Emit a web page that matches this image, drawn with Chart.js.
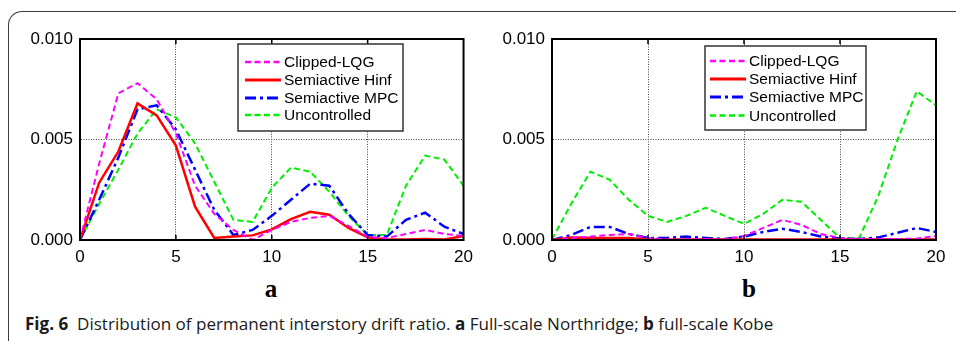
<!DOCTYPE html>
<html>
<head>
<meta charset="utf-8">
<script src="https://cdn.jsdelivr.net/npm/chart.js@4.4.1/dist/chart.umd.min.js"></script>
<style>
  html, body { margin: 0; padding: 0; background: #fff; }
  body { width: 956px; height: 341px; position: relative; overflow: hidden; }
  .frame {
    position: absolute; left: 8px; top: 11px; width: 1100px; height: 500px;
    border-top: 1.5px solid #3c3c3c; border-left: 1.5px solid #3c3c3c;
    border-top-left-radius: 14px;
  }
  canvas { position: absolute; top: 0; }
  .panel-label {
    position: absolute; top: 276px; width: 40px; text-align: center;
    font-family: "Liberation Serif", "DejaVu Serif", serif; font-weight: bold;
    font-size: 25px; line-height: 25px; color: #000;
  }
  #caption {
    position: absolute; left: 25px; top: 315px; white-space: nowrap;
    font-family: "Open Sans", "Noto Sans", sans-serif; font-size: 17px; line-height: 17px;
    color: #1a1a1a; transform-origin: 0 0;
  }
</style>
</head>
<body>
<div class="frame"></div>
<canvas id="chartA" width="480" height="270" style="left:0px"></canvas>
<canvas id="chartB" width="476" height="270" style="left:480px"></canvas>
<div class="panel-label" style="left:251px">a</div>
<div class="panel-label" style="left:729px">b</div>
<div id="caption"><b>Fig. 6</b>&nbsp; Distribution of permanent interstory drift ratio. <b>a</b> Full-scale Northridge; <b>b</b> full-scale Kobe</div>
<script>
// storey number 0..20
const stories = [0, 1, 2, 3, 4, 5, 6, 7, 8, 9, 10, 11, 12, 13, 14, 15, 16, 17, 18, 19, 20];
const seriesNames = ['Clipped-LQG', 'Semiactive Hinf', 'Semiactive MPC', 'Uncontrolled'];
const yTicks = [0, 0.005, 0.010];

// (a) Full-scale Northridge
const lqgA   = [0, 0.0038, 0.0073, 0.0078, 0.0070, 0.0053, 0.0027, 0.0013, 0.0005, 0.0000, 0.0005,
                0.0009, 0.0011, 0.0012, 0.0007, 0.00015, 0.0001, 0.0003, 0.0005, 0.0003, 0.0002];
const hinfA  = [0, 0.00285, 0.0044, 0.0068, 0.0062, 0.0047, 0.00166, 0.0001, 0.00017, 0.00023, 0.00053,
                0.00104, 0.0014, 0.00126, 0.0006, 0.00013, 0.00003, 0.00003, 0.00005, 0.00003, 0.0002];
const mpcA   = [0, 0.0020, 0.0041, 0.0065, 0.0067, 0.0055, 0.0035, 0.0015, 0.00025, 0.0005, 0.0012,
                0.0020, 0.0028, 0.0027, 0.0013, 0.00025, 0.00017, 0.0010, 0.00136, 0.00066, 0.0003];
const uncA   = [0, 0.0018, 0.0035, 0.0053, 0.0065, 0.0061, 0.0048, 0.0029, 0.0010, 0.0009, 0.0026,
                0.0036, 0.0034, 0.0024, 0.0012, 0.00025, 0.00025, 0.0027, 0.0042, 0.0040, 0.0027];

// (b) Full-scale Kobe
const lqgB   = [0, 0.0001, 0.00017, 0.00025, 0.0003, 0.0001, 0.00003, 0.00003, 0.00005, 0.00003, 0.0002,
                0.0006, 0.0010, 0.00075, 0.0003, 0.0001, 0.00005, 0.00005, 0.00005, 0.00007, 0.0002];
const hinfB  = [0, 0.00013, 0.0001, 0.0001, 0.0001, 0.00003, 0.00001, 0.00002, 0.00002, 0.00002, 0.00002,
                0.00002, 0.00003, 0.00003, 0.00002, 0.00002, 0.00002, 0.00002, 0.00002, 0.00003, 0.00003];
const mpcB   = [0, 0.00025, 0.00065, 0.00065, 0.0003, 0.0001, 0.0001, 0.00017, 0.0001, 0.00005, 0.00017,
                0.0004, 0.00056, 0.0004, 0.00017, 0.00007, 0.00005, 0.00013, 0.00036, 0.0006, 0.0004];
const uncB   = [0.00003, 0.0018, 0.0034, 0.0030, 0.0020, 0.0012, 0.0009, 0.0012, 0.0016, 0.0012, 0.0008,
                0.0013, 0.0020, 0.0019, 0.0010, 0.0001, 0.0001, 0.0022, 0.0050, 0.0074, 0.0067];

const styles = [
    { color: '#ff00ff', width: 2, dash: [6, 3.5] },
    { color: '#ff0000', width: 2.5, dash: [] },
    { color: '#0000ff', width: 2.5, dash: [11, 4, 3, 4] },
    { color: '#00ee00', width: 2, dash: [6, 3.5] }
];

function makeDatasets(values) {
    return values.map((vals, i) => ({
        label: seriesNames[i],
        data: stories.map((s, k) => ({ x: s, y: vals[k] })),
        borderColor: styles[i].color,
        borderWidth: styles[i].width,
        borderDash: styles[i].dash,
        pointRadius: 0,
        tension: 0,
        fill: false,
        borderJoinStyle: 'miter'
    }));
}

// frame around plot area, inward tick marks, and legend box
const framePlugin = {
    id: 'frameAndLegend',
    afterDraw(chart, args, opts) {
        const ctx = chart.ctx;
        const a = chart.chartArea;
        const xs = chart.scales.x;
        ctx.save();
        ctx.strokeStyle = '#000';
        ctx.lineWidth = 2;
        ctx.setLineDash([]);
        ctx.strokeRect(a.left, a.top, a.right - a.left, a.bottom - a.top);
        ctx.lineWidth = 1.5;
        ctx.beginPath();
        [5, 10, 15].forEach(v => {
            const px = xs.getPixelForValue(v);
            ctx.moveTo(px, a.top); ctx.lineTo(px, a.top + 5);
            ctx.moveTo(px, a.bottom); ctx.lineTo(px, a.bottom - 5);
        });
        ctx.stroke();

        // legend
        const L = opts.box;
        ctx.fillStyle = '#fff';
        ctx.fillRect(L.x, L.y, L.w, L.h);
        ctx.strokeStyle = '#333';
        ctx.lineWidth = 1.5;
        ctx.strokeRect(L.x, L.y, L.w, L.h);
        ctx.font = '15.5px "Liberation Sans", Arial, sans-serif';
        ctx.textBaseline = 'middle';
        ctx.fillStyle = '#000';
        chart.data.datasets.forEach((ds, i) => {
            const y = L.rows[i];
            ctx.beginPath();
            ctx.strokeStyle = ds.borderColor;
            ctx.lineWidth = ds.borderWidth + 0.5;
            ctx.setLineDash(ds.borderDash);
            ctx.moveTo(L.x0, y); ctx.lineTo(L.x1, y);
            ctx.stroke();
            ctx.setLineDash([]);
            ctx.fillText(ds.label, L.tx, y + 1);
        });
        ctx.restore();
    }
};

const tickFont = { family: '"Liberation Sans", Arial, sans-serif', size: 17 };

function makeChart(id, values, yWidth, padRight, box) {
    const ctx = document.getElementById(id).getContext('2d');
    return new Chart(ctx, {
        type: 'line',
        data: { datasets: makeDatasets(values) },
        options: {
            responsive: false,
            animation: false,
            devicePixelRatio: 1,
            layout: { padding: { top: 39, right: padRight, left: 0, bottom: 0 } },
            plugins: {
                legend: { display: false },
                tooltip: { enabled: false },
                frameAndLegend: { box: box }
            },
            scales: {
                x: {
                    type: 'linear', min: 0, max: 20,
                    afterFit: s => { s.height = 30; },
                    ticks: { stepSize: 5, padding: 7, color: '#000', font: tickFont, maxRotation: 0 },
                    grid: { color: '#444', lineWidth: 1, drawTicks: false },
                    border: { display: true, color: '#000', dash: [1, 1.5] }
                },
                y: {
                    min: 0, max: 0.01,
                    afterFit: s => { s.width = yWidth; },
                    afterBuildTicks: s => { s.ticks = yTicks.map(v => ({ value: v })); },
                    ticks: { padding: 7, color: '#000', font: tickFont, callback: v => v.toFixed(3) },
                    grid: { color: '#444', lineWidth: 1, drawTicks: false },
                    border: { display: true, color: '#000', dash: [1, 1.5] }
                }
            }
        },
        plugins: [framePlugin]
    });
}

makeChart('chartA', [lqgA, hinfA, mpcA, uncA], 80, 16,
    { x: 238, y: 44, w: 165, h: 87, x0: 245, x1: 281, tx: 284, rows: [62, 80, 98, 115] });
makeChart('chartB', [lqgB, hinfB, mpcB, uncB], 72, 20,
    { x: 225, y: 46, w: 161, h: 84, x0: 230, x1: 266, tx: 269, rows: [61, 79, 97, 115.5] });

// squeeze caption to the width it has in the figure
const cap = document.getElementById('caption');
cap.style.transform = 'scaleX(' + (748 / cap.offsetWidth) + ')';
</script>
</body>
</html>
